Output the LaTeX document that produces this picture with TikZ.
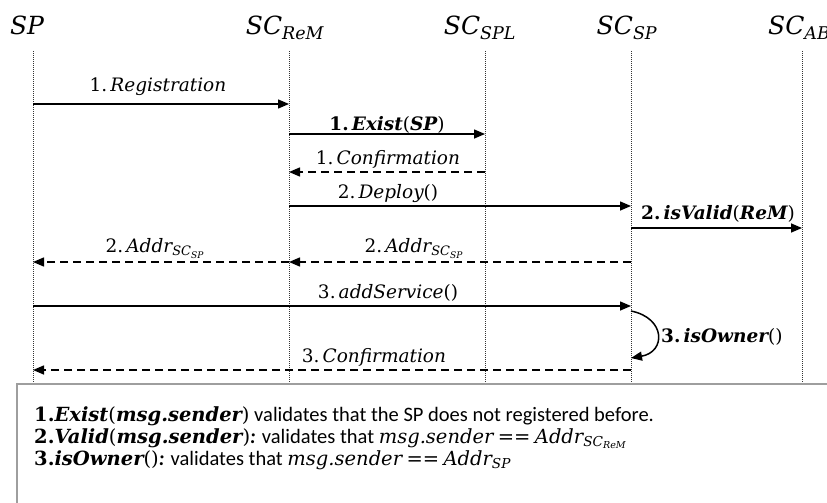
\documentclass[tikz,border=0pt]{standalone}
\usepackage{fontspec}
\newfontfamily\calib{Carlito}
\newfontfamily\mf{DejaVu Serif}
\newcommand\up[1]{{\mf\upshape #1}}
\newcommand\vi[1]{{\mf\itshape #1}}
\newcommand\vb[1]{{\mf\bfseries\itshape #1}}
\newcommand\nb[1]{{\mf\bfseries\upshape #1}}
\newcommand\sbs[1]{\textsubscript{#1}}
\usetikzlibrary{arrows.meta}
\tikzset{
  hdr/.style={anchor=base, inner sep=0pt, font=\fontsize{25}{30}\selectfont},
  lbl/.style={anchor=base, inner sep=0pt, font=\fontsize{18.5}{22}\selectfont},
  life/.style={line width=0.7pt, dash pattern=on 0.8pt off 1.2pt, black!80},
  msg/.style={line width=1.5pt, -{Triangle[length=11pt,width=9pt]}},
  ret/.style={msg, dash pattern=on 8pt off 5pt},
  notebox/.style={draw=black!38, line width=2pt},
  note/.style={anchor=base west, inner sep=0pt, font=\calib\fontsize{20.5}{24}\selectfont}
}
\newcommand\mm[1]{{\fontsize{19.5}{24}\selectfont #1}}
\begin{document}
\begin{tikzpicture}[x=1pt,y=-1pt]
\useasboundingbox (0,0) rectangle (827,503);
% headers
\node[hdr] (hSP)   at (27,35)  {\vi{SP}};
\node[hdr] (hReM)  at (285,35) {\vi{SC\sbs{ReM}}};
\node[hdr] (hSPL)  at (480,35) {\vi{SC\sbs{SPL}}};
\node[hdr] (hSCSP) at (627,35) {\vi{SC\sbs{SP}}};
\node[hdr, anchor=base west] (hAB) at (768,35) {\vi{SC\sbs{AB}}};
% lifelines
\coordinate (SP)   at (33,51);  \coordinate (SPb)   at (33,384);
\coordinate (ReM)  at (289,51); \coordinate (ReMb)  at (289,384);
\coordinate (SPL)  at (485,51); \coordinate (SPLb)  at (485,384);
\coordinate (SCSP) at (631,51); \coordinate (SCSPb) at (631,384);
\coordinate (AB)   at (802,51); \coordinate (ABb)   at (802,384);
\foreach \a in {SP,ReM,SPL,SCSP,AB} \draw[life] (\a) -- (\a b);
% message end points
\coordinate (y1) at (0,104);
\coordinate (y2) at (0,134);
\coordinate (y3) at (0,172);
\coordinate (y4) at (0,206);
\coordinate (y5) at (0,228);
\coordinate (y6) at (0,262);
\coordinate (y7) at (0,306);
\coordinate (y8a) at (0,311);
\coordinate (y8b) at (0,358);
\coordinate (y9) at (0,370);
% messages
\draw[msg] (SP |- y1) -- (ReM |- y1);
\node[lbl] (l1) at (158,91) {\up{1.\,}\vi{Registration}};
\draw[msg] (ReM |- y2) -- (SPL |- y2);
\node[lbl] (l2) at (387,130) {\nb{1.\,}\vb{Exist}\up{(}\vb{SP}\up{)}};
\draw[ret] (SPL |- y3) -- (ReM |- y3);
\node[lbl] (l3) at (388,164) {\up{1.\,}\vi{Confirmation}};
\draw[msg] (ReM |- y4) -- (SCSP |- y4);
\node[lbl] (l4) at (388,198) {\up{2.\,}\vi{Deploy}\up{()}};
\draw[msg] (SCSP |- y5) -- (AB |- y5);
\node[lbl] (l5) at (718,219) {\nb{2.\,}\vb{isValid}\up{(}\vb{ReM}\up{)}};
\draw[ret] (SCSP |- y6) -- (ReM |- y6);
\node[lbl] (l6) at (414,252) {\up{2.\,}\vi{Addr\sbs{SC\sbs{SP}}}};
\draw[ret] (ReM |- y6) -- (SP |- y6);
\node[lbl] (l7) at (155,252) {\up{2.\,}\vi{Addr\sbs{SC\sbs{SP}}}};
\draw[msg] (SP |- y7) -- (SCSP |- y7);
\node[lbl] (l8) at (388,298) {\up{3.\,}\vi{addService}\up{()}};
\draw[msg] (SCSP |- y8a) .. controls (666,318) and (666,352) .. (SCSP |- y8b);
\node[lbl, anchor=base west] (l9) at (661,342) {\nb{3.\,}\vb{isOwner}\up{()}};
\draw[ret] (SCSP |- y9) -- (SP |- y9);
\node[lbl] (l10) at (374,362) {\up{3.\,}\vi{Confirmation}};
% note box
\draw[notebox] (17,384) rectangle (850,530);
\node[note] (n1) at (34,421) {\mm{\nb{1.}\vb{Exist}\up{(}\vb{msg.sender}\up{)}} validates that the SP does not registered before.};
\node[note] (n2) at (34,443) {\mm{\nb{2.}\vb{Valid}\up{(}\vb{msg.sender}\up{)}}{\bfseries\itshape :} validates that \mm{\vi{msg.sender} \up{==} \vi{Addr\sbs{SC\sbs{ReM}}}}};
\node[note] (n3) at (34,465) {\mm{\nb{3.}\vb{isOwner}\up{()}}{\bfseries\itshape :} validates that \mm{\vi{msg.sender} \up{==} \vi{Addr\sbs{SP}}}};
\end{tikzpicture}
\end{document}
